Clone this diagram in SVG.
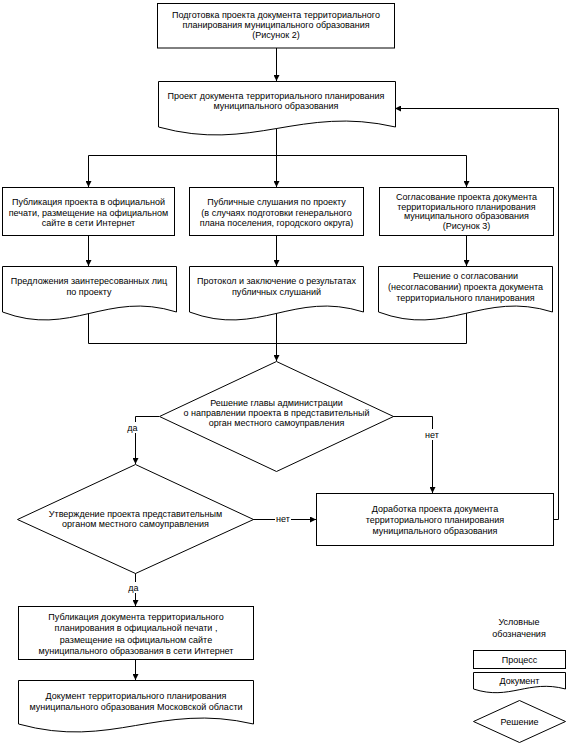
<svg xmlns="http://www.w3.org/2000/svg" width="567" height="745" viewBox="0 0 567 745">
<defs>
<marker id="arr" markerUnits="userSpaceOnUse" markerWidth="6" markerHeight="6" refX="6" refY="3" orient="auto">
<path d="M0,0 L6,3 L0,6 Z" fill="#000"/>
</marker>
<style>
.s{fill:#fff;stroke:#000;stroke-width:1}
.t{font-family:"Liberation Sans",Arial,sans-serif;font-size:9px;fill:#000;text-anchor:middle}
.c{fill:none;stroke:#000;stroke-width:1}
.a{marker-end:url(#arr)}
.bg{fill:#fff}
</style>
</defs>
<rect width="567" height="745" fill="#fff"/>
<g id="connectors">
<path class="c a" d="M276.5,48 V81"/>
<path class="c" d="M276.5,128 V155.5 M88.5,155.5 H466.5"/>
<path class="c a" d="M88.5,155.5 V187"/>
<path class="c a" d="M276.5,155.5 V187"/>
<path class="c a" d="M466.5,155.5 V187"/>
<path class="c a" d="M88.5,236 V266"/>
<path class="c a" d="M276.5,236 V266"/>
<path class="c a" d="M466.5,236 V266"/>
<path class="c" d="M88.5,313 V343.5 H466.5 M276.5,313 V343.5 M466.5,313 V343.5"/>
<path class="c a" d="M276.5,343.5 V361"/>
<path class="c a" d="M159,416.5 H135.5 V464"/>
<path class="c a" d="M393,416.5 H432.5 V493"/>
<path class="c a" d="M253,519.5 H316"/>
<path class="c a" d="M554,519.5 H558.5 V108.5 H395"/>
<path class="c a" d="M135.5,573 V606"/>
<path class="c a" d="M135.5,660 V680"/>
<rect class="bg" x="126" y="422" width="13" height="11"/>
<text class="t" x="132.5" y="431">да</text>
<rect class="bg" x="424" y="429" width="16" height="11"/>
<text class="t" x="432" y="438">нет</text>
<rect class="bg" x="275" y="514" width="16" height="11"/>
<text class="t" x="283" y="522">нет</text>
<rect class="bg" x="127" y="582" width="13" height="11"/>
<text class="t" x="133.5" y="591">да</text>
</g>
<g id="n1">
<rect class="s" x="157.5" y="3.5" width="237" height="44.5"/>
<text class="t" x="276" y="18">Подготовка проекта документа территориального</text>
<text class="t" x="276" y="28">планирования  муниципального образования</text>
<text class="t" x="276" y="38">(Рисунок 2)</text>
</g>
<g id="n2">
<path class="s" d="M158.5,81.5 H395.5 V127 C300.2,105 252.8,153 158.5,127 Z"/>
<text class="t" x="276" y="99">Проект документа территориального планирования</text>
<text class="t" x="276" y="109">муниципального образования</text>
</g>
<g id="n3a">
<rect class="s" x="2.5" y="187.5" width="172" height="48"/>
<text class="t" x="88.5" y="205">Публикация проекта в официальной</text>
<text class="t" x="88.5" y="215.5">печати, размещение на официальном</text>
<text class="t" x="88.5" y="226">сайте в сети Интернет</text>
</g>
<g id="n3b">
<rect class="s" x="189.5" y="187.5" width="174" height="48"/>
<text class="t" x="276.5" y="205">Публичные слушания по проекту</text>
<text class="t" x="276.5" y="215.5">(в случаях подготовки генерального</text>
<text class="t" x="276.5" y="226">плана поселения, городского округа)</text>
</g>
<g id="n3c">
<rect class="s" x="379.5" y="187.5" width="174" height="48"/>
<text class="t" x="466.5" y="200">Согласование проекта документа</text>
<text class="t" x="466.5" y="209.5">территориального планирования</text>
<text class="t" x="466.5" y="219">муниципального образования</text>
<text class="t" x="466.5" y="228.5">(Рисунок 3)</text>
</g>
<g id="n4a">
<path class="s" d="M2.5,266.5 H176.5 V312 C106.4,290 71.6,338 2.5,312 Z"/>
<text class="t" x="89" y="284">Предложения заинтересованных лиц</text>
<text class="t" x="89" y="295">по проекту</text>
</g>
<g id="n4b">
<path class="s" d="M189.5,266.5 H363.5 V312 C293.4,290 258.6,338 189.5,312 Z"/>
<text class="t" x="276.5" y="284">Протокол и заключение о результатах</text>
<text class="t" x="276.5" y="295">публичных слушаний</text>
</g>
<g id="n4c">
<path class="s" d="M378.5,266.5 H552.5 V312 C482.4,290 447.6,338 378.5,312 Z"/>
<text class="t" x="465.5" y="279">Решение о согласовании</text>
<text class="t" x="465.5" y="290">(несогласовании) проекта документа</text>
<text class="t" x="465.5" y="301">территориального планирования</text>
</g>
<g id="d1">
<path class="s" d="M276.5,361.5 L393.5,416.5 L276.5,471.5 L159.5,416.5 Z"/>
<text class="t" x="276.5" y="406">Решение главы администрации</text>
<text class="t" x="276.5" y="416">о направлении проекта в представительный</text>
<text class="t" x="276.5" y="426">орган местного самоуправления</text>
</g>
<g id="d2">
<path class="s" d="M135.5,464.5 L253.5,519.5 L135.5,573.5 L17.5,519.5 Z"/>
<text class="t" x="135.5" y="517">Утверждение проекта представительным</text>
<text class="t" x="135.5" y="527">органом местного самоуправления</text>
</g>
<g id="n5">
<rect class="s" x="316.5" y="493.5" width="237" height="52"/>
<text class="t" x="435" y="512">Доработка проекта документа</text>
<text class="t" x="435" y="523">территориального планирования</text>
<text class="t" x="435" y="534">муниципального образования</text>
</g>
<g id="n6">
<rect class="s" x="18.5" y="606.5" width="235" height="53"/>
<text class="t" x="136" y="620">Публикация документа территориального</text>
<text class="t" x="136" y="631">планирования в официальной печати ,</text>
<text class="t" x="136" y="643">размещение на официальном сайте</text>
<text class="t" x="136" y="654">муниципального образования в сети Интернет</text>
</g>
<g id="n7">
<path class="s" d="M18.5,680.5 H253.5 V724 C159,702 112,750 18.5,724 Z"/>
<text class="t" x="136" y="699">Документ территориального планирования</text>
<text class="t" x="136" y="710">муниципального образования Московской области</text>
</g>
<g id="legend">
<text class="t" x="519" y="625">Условные</text>
<text class="t" x="519" y="637">обозначения</text>
<rect class="s" x="473.5" y="650.5" width="92" height="18"/>
<text class="t" x="519.5" y="663">Процесс</text>
<path class="s" d="M473.5,672.5 H565.5 V689 C528.2,679 509.8,701 473.5,689 Z"/>
<text class="t" x="519.5" y="684">Документ</text>
<path class="s" d="M519.5,700.5 L565.5,721.5 L519.5,742.5 L473.5,721.5 Z"/>
<text class="t" x="519.5" y="725">Решение</text>
</g>
</svg>
